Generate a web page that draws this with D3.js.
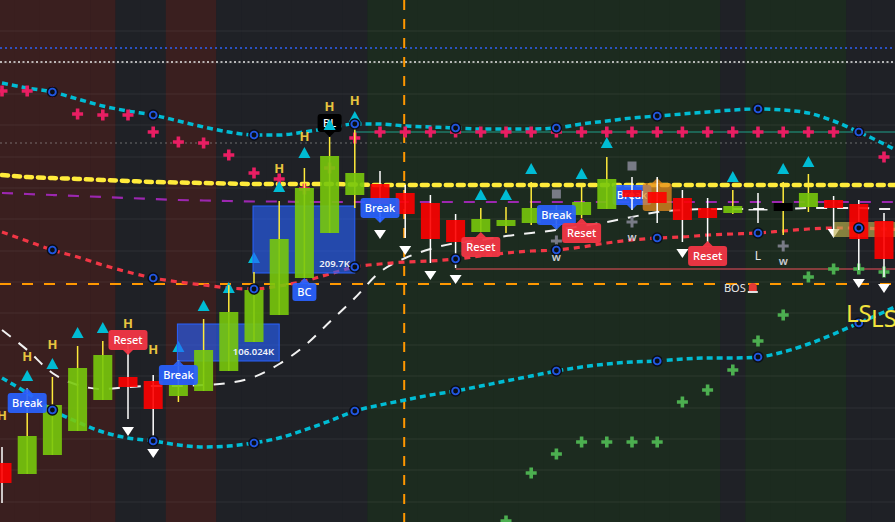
<!DOCTYPE html>
<html><head><meta charset="utf-8">
<script src="https://cdn.jsdelivr.net/npm/d3@7"></script>
<style>html,body{margin:0;padding:0;background:#1f2126;overflow:hidden}</style>
</head><body><svg id="c" width="895" height="522"></svg>
<script>
const W = 895, H = 522;
// ---- data ----
const bars = d3.range(36);
const opens  = [137,126,145,169,200,223,219,204,209,229,258,285,322,367,405,416,407,397,380,368,374,377,380,385,391,410,408,402,392,387,391,389,393,400,396,379];
const highs  = [153,212,223,254,259,260,225,240,281,315,328,399,432,463,480,429,415,405,386,392,393,418,395,413,443,423,423,410,402,410,407,418,426,404,400,387];
const lows   = [97,126,145,169,200,181,164,198,209,229,258,285,322,367,392,378,362,337,332,368,367,375,370,382,391,390,377,358,357,386,377,365,388,370,330,323];
const closes = [117,164,195,232,245,213,191,215,250,288,310,361,412,444,427,396,386,361,358,381,380,392,390,398,421,403,397,380,382,394,391,397,407,392,361,341];
const barTint = {31: "#000000"};
const regime = ["bear","bear","bear","bear","bear","flat","flat","bear","bear","flat","flat","flat","flat","flat","flat",
  "bull","bull","bull","bull","bull","bull","bull","bull","bull","bull","bull","bull","bull","bull","flat","bull","bull","bull","bull","flat","flat"];

// line series (37 points, last one just beyond the right edge)
const whiteMA   = [270,250,227,215,211,213,214,214,215,217,223,236,254,278,302,328,342,351,357,360,364,367,370,374,378,383,388,390,391,391,391,391,392,392,392,391,391];
const yellowMA  = [425,423,422,421,420,419,418,417.5,417,416.5,416,416,416,416,415.5,415,415,415,415,415,415,415,415,415,415,415,415,415,415,415,415,415,415,415,415,415,415];
const purpleMA  = [407,406,405,404,403,402,401,400,399.5,399,398.5,398.5,398,398,398,398,398,398,398,398,398,398,398,398,398,398,398,398,398,398,398,398,398,398,398,398,398];
const cyanUpper = [517,512,508,501,494,489,485,479,473,468,465,465,468,472,476,476,474,473,472,471,471,471,472,476,479,482,484,486,488,490,491,490,487,479,468,456,443];
const cyanLower = [222,207,190,178,168,162,159,155,153,154,157,162,170,179,189,195,200,205,209,214,219,224,229,233,236,238,239,241,242,242,243,248,256,266,277,288,300];
const redMid    = [368,359,350,343,335,328,322,318,315,312,311,314,319,326,333,336,338,339,341,344,347,349,350,353,357,360,362,363,365,366,367,369,371,372,372,371,370];
const pivotIdx  = [2,6,10,14,18,22,26,30,34];

const pinkCross  = [509,509,508,486,485,485,468,458,457,445,427,421,411,432,462,468,468,468,468,468,468,468,468,468,468,468,468,468,468,468,468,468,468,468,468,443];
const greenCross = [[20,79],[21,127],[22,146],[23,158],[24,158],[25,158],[26,158],[27,198],[28,210],[29,230],[30,259],[31,285],[32,323],[33,331],[34,331],[35,328]];
const grayCross  = [[22,359],[25,378],[31,354]];
const graySquare = [[22,406],[25,434]];
const upTri   = [[1,224],[2,236],[3,267],[4,272],[7,253],[8,294],[9,312],[10,342],[11,413],[12,447],[13,475],[14,483],[19,405],[20,405],[21,431],[23,426],[24,457],[29,423],[31,431],[32,438]];
const downTri = [[5,169],[6,147],[15,366],[16,350],[17,325],[18,321],[27,347],[33,367],[34,317],[35,312]];
const hMarks  = [[0,185],[1,244],[2,256],[5,277],[6,251],[11,432],[12,464],[13,494],[14,500]];
const wMarks  = [[22,344],[25,364],[31,340]];
const lMarks  = [[30,345]];
const lsMarks = [[34,287],[35,282]];
const bosMark = [29,312];
const gridLevels = [569,537,506,475,443,412,381,349,318,287,255,224,192,161,130,98];
const levelBlue = 552, levelWhite = 538, levelGray = 457, levelTeal = 468, levelOrange = 316, levelRed = 331;
const tealFrom = 14, redFrom = 18, vLineIdx = 16;
// labels: index, tip value, text, kind, direction
const bubbles = [
  [1,212,"Break","blue","up"],[7,240,"Break","blue","up"],[15,377,"Break","blue","down"],
  [22,370,"Break","blue","down"],[25,390,"Break","blue","down"],[26,422,"","orange","up"],
  [5,245,"Reset","red","down"],[19,368,"Reset","red","up"],[23,382,"Reset","red","up"],[28,359,"Reset","red","up"],
  [12,322,"BC","blue","up"],[13,463,"BL","black","down"]
];
const volBoxes = [[10,14,394,327,"209.7K"],[7,11,276,239,"106.024K"]];
const oliveBox = [33,37,378,363];

// ---- scales ----
const x = d3.scaleLinear().domain([0,35]).range([2,884]);
const y = d3.scaleLinear().domain([78,600]).range([522,0]);
const step = x(1) - x(0);
const svg = d3.select("#c");
const tf = "Noto Sans, sans-serif";

// background regimes
const bgCol = {bear:"#3a1f1f", flat:"#1f2126", bull:"#1c2b1f"};
svg.append("g").selectAll("rect").data(bars).join("rect")
  .attr("x", i => i === 0 ? 0 : x(i) - step/2)
  .attr("width", i => i === 35 ? W - (x(i) - step/2) : (i === 0 ? x(0) + step/2 : step) + 0.5)
  .attr("y", 0).attr("height", H).attr("fill", i => bgCol[regime[i]]);

// grid
svg.append("g").selectAll("line").data(gridLevels).join("line")
  .attr("x1",0).attr("x2",W).attr("y1",d=>y(d)).attr("y2",d=>y(d))
  .attr("stroke","rgba(255,255,255,0.07)").attr("stroke-width",1);

// horizontal levels
function hline(v, x1, col, w, dash){
  svg.append("line").attr("x1",x1).attr("x2",W).attr("y1",y(v)).attr("y2",y(v))
    .attr("stroke",col).attr("stroke-width",w).attr("stroke-dasharray",dash);
}
hline(levelBlue, 0, "#2f62f5", 1.5, "2 3");
hline(levelWhite, 0, "#e8e8e8", 1.5, "2 2.5");
hline(levelGray, 0, "rgba(160,160,160,0.6)", 1, "2 3");
hline(levelTeal, x(tealFrom), "#1fa08a", 1.2, null);
hline(levelRed, x(redFrom), "#f0505a", 1.2, null);
hline(levelOrange, 0, "#ff9800", 2, "11 11");
svg.append("line").attr("x1",x(vLineIdx)-1).attr("x2",x(vLineIdx)-1).attr("y1",0).attr("y2",H)
  .attr("stroke","#ff9800").attr("stroke-width",2).attr("stroke-dasharray","10 9");

// MA lines
const xs = d3.range(37);
function curve(data, col, w, dash, cap){
  svg.append("path").datum(xs)
    .attr("d", d3.line().x(i=>x(i)).y(i=>y(data[i])).curve(d3.curveMonotoneX))
    .attr("fill","none").attr("stroke",col).attr("stroke-width",w)
    .attr("stroke-dasharray",dash).attr("stroke-linecap",cap||"butt");
}
curve(purpleMA, "#9c27b0", 2.2, "11 11");
curve(yellowMA, "#ffeb3b", 4.5, "6 6", "round");
curve(whiteMA, "#f2f2f2", 2, "11 10");
curve(redMid, "#f23645", 3.2, "6 5");
curve(cyanUpper, "#00bcd4", 3.5, "6 4");
curve(cyanLower, "#00bcd4", 3.5, "6 4");

// bubble helper
const bCol = {blue:"rgba(41,98,255,0.92)", red:"rgba(242,54,69,0.95)", orange:"rgba(230,140,30,0.75)", black:"#000000"};
function bubble([i,v,txt,kind,dir]){
  const cx = x(i), tip = y(v);
  const w = txt === "" ? 29 : (txt.length <= 2 ? 24 : 39);
  const h = txt === "" ? 28 : (txt.length <= 2 ? 18 : 20);
  let ry, path;
  if (dir === "up") { ry = tip + 5; path = `M${cx},${tip}L${cx+6},${ry+1}L${cx-6},${ry+1}Z`; }
  else { ry = tip - 5 - h; path = `M${cx},${tip}L${cx+6},${tip-6}L${cx-6},${tip-6}Z`; }
  const g = svg.append("g");
  g.append("rect").attr("x",cx-w/2).attr("y",ry).attr("width",w).attr("height",h).attr("rx",3).attr("fill",bCol[kind]);
  g.append("path").attr("d",path).attr("fill",bCol[kind]);
  if (txt) g.append("text").attr("x",cx).attr("y",ry+h/2+4).attr("text-anchor","middle")
    .attr("fill","#ffffff").attr("font-family",tf).attr("font-size",11).attr("font-weight",500).text(txt);
}

// crosses
function cross(g, cx, cy, col, s, t){
  g.append("path").attr("d",
    `M${cx-t/2},${cy-s/2}h${t}v${(s-t)/2}h${(s-t)/2}v${t}h${-(s-t)/2}v${(s-t)/2}h${-t}v${-(s-t)/2}h${-(s-t)/2}v${-t}h${(s-t)/2}z`)
   .attr("fill",col);
}
const mk = svg.append("g");
pinkCross.forEach((v,i)=>cross(mk, x(i), y(v), "#e91e63", 11, 3.6));
greenCross.forEach(([i,v])=>cross(mk, x(i), y(v), "#4caf50", 11, 3.6));
grayCross.forEach(([i,v])=>cross(mk, x(i), y(v), "#787b86", 11, 3));
graySquare.forEach(([i,v])=>mk.append("rect").attr("x",x(i)-4.5).attr("y",y(v)-4.5).attr("width",9).attr("height",9).attr("fill","#787b86"));
// black label sits under the triangles
bubbles.filter(b=>b[3]==="black").forEach(bubble);
const tg = svg.append("g");
upTri.forEach(([i,v])=>tg.append("path").attr("d",`M${x(i)},${y(v)-6}L${x(i)+6},${y(v)+5}L${x(i)-6},${y(v)+5}Z`).attr("fill","#00bcd4"));
downTri.forEach(([i,v])=>tg.append("path").attr("d",`M${x(i)-6},${y(v)-4}L${x(i)+6},${y(v)-4}L${x(i)},${y(v)+5}Z`).attr("fill","#ffffff"));

// volume boxes
volBoxes.forEach(([a,b,t,bt])=>{
  svg.append("rect").attr("x",x(a)-1).attr("width",x(b)-x(a)+1).attr("y",y(t)).attr("height",y(bt)-y(t))
    .attr("fill","rgba(41,98,255,0.62)").attr("stroke","#2962ff").attr("stroke-width",1);
});
svg.append("rect").attr("x",x(oliveBox[0])).attr("width",x(oliveBox[1])-x(oliveBox[0]))
  .attr("y",y(oliveBox[2])).attr("height",y(oliveBox[3])-y(oliveBox[2]))
  .attr("fill","rgba(190,175,80,0.65)");
// break label at bar 25 and the orange marker sit under the candles
const underBars = b => b[3]==="orange" || (b[0]===25 && b[3]==="blue");
bubbles.filter(b=>b[0]===25 && b[3]==="blue").forEach(bubble);
bubbles.filter(b=>b[3]==="orange").forEach(bubble);

// candles
const cg = svg.append("g");
bars.forEach(i=>{
  const o=opens[i], c=closes[i];
  const up = c>o, flat = c===o;
  const body = barTint[i] || (flat ? "#ffffff" : (up ? "#78c80c" : "#ff0000"));
  const wick = up || barTint[i] ? "#ffeb3b" : "#ffffff";
  cg.append("line").attr("x1",x(i)).attr("x2",x(i)).attr("y1",y(highs[i])).attr("y2",y(lows[i]))
    .attr("stroke",wick).attr("stroke-width",1.5);
  const top = y(Math.max(o,c)), bot = y(Math.min(o,c));
  cg.append("rect").attr("x",x(i)-9.5).attr("width",19).attr("y",top).attr("height",Math.max(bot-top,1.5))
    .attr("fill",body).attr("opacity", barTint[i] ? 1 : 0.9);
});

// pivots
const pg = svg.append("g");
[cyanUpper, cyanLower, redMid].forEach(arr=>pivotIdx.forEach(i=>{
  pg.append("circle").attr("cx",x(i)).attr("cy",y(arr[i])).attr("r",5.8).attr("fill","#0b0e15");
  pg.append("circle").attr("cx",x(i)).attr("cy",y(arr[i])).attr("r",3.4).attr("fill","none")
    .attr("stroke","#2156e0").attr("stroke-width",1.9);
}));

// volume box texts
volBoxes.forEach(([a,b,t,bt,txt])=>{
  svg.append("text").attr("x",x(b)-5).attr("y",y(bt)-6).attr("text-anchor","end")
    .attr("fill","#eef1f8").attr("font-family",tf).attr("font-size",9.5).attr("font-weight",600).text(txt);
});

// remaining bubbles
bubbles.filter(b=>b[3]!=="black" && !underBars(b)).forEach(bubble);

// text marks
hMarks.forEach(([i,v])=>svg.append("text").attr("x",x(i)).attr("y",y(v)+5).attr("text-anchor","middle")
  .attr("fill","#e8c53f").attr("font-family",tf).attr("font-size",13).attr("font-weight",700).text("H"));
wMarks.forEach(([i,v])=>svg.append("text").attr("x",x(i)).attr("y",y(v)+5).attr("text-anchor","middle")
  .attr("fill","#c9ccd3").attr("font-family",tf).attr("font-size",11).attr("font-weight",600).text("w"));
lMarks.forEach(([i,v])=>svg.append("text").attr("x",x(i)).attr("y",y(v)+5).attr("text-anchor","middle")
  .attr("fill","#e8e8e8").attr("font-family",tf).attr("font-size",12).text("L"));
lsMarks.forEach(([i,v])=>svg.append("text").attr("x",x(i)).attr("y",y(v)+9).attr("text-anchor","middle")
  .attr("fill","#f2e33c").attr("font-family",tf).attr("font-size",24).text("LS"));
svg.append("text").attr("x",x(bosMark[0])+2).attr("y",y(bosMark[1])+4).attr("text-anchor","middle")
  .attr("fill","#e8e8e8").attr("font-family",tf).attr("font-size",11).text("BOS");
// alarm icon
const bx = x(bosMark[0]) + 20, by = y(bosMark[1]);
svg.append("path").attr("d",`M${bx-4},${by+3}L${bx-4},${by-1}A4,4 0 0 1 ${bx+4},${by-1}L${bx+4},${by+3}Z`).attr("fill","#e53935");
svg.append("rect").attr("x",bx-5).attr("y",by+3).attr("width",10).attr("height",2).attr("fill","#e0e0e0");
</script></body></html>
